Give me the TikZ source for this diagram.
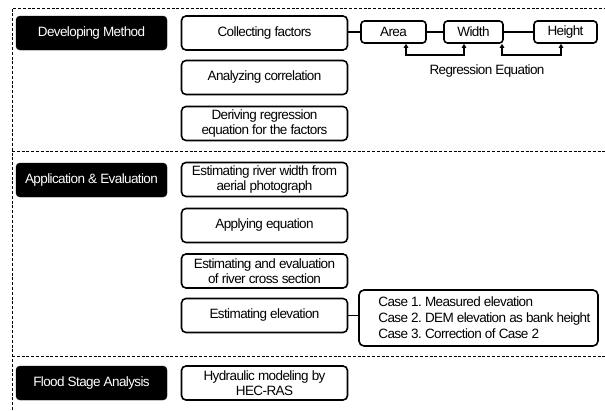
\documentclass[tikz,border=0pt]{standalone}
\usepackage{fontspec}
\setmainfont[LetterSpace=-4.5]{Liberation Sans}
\usetikzlibrary{arrows.meta,calc}
\frenchspacing
\begin{document}
\begin{tikzpicture}[x=1pt,y=-1pt,
  frame/.style={line width=0.9pt,dash pattern=on 3pt off 1.8pt},
  blackbox/.style={draw=black,fill=black,text=white,rounded corners=4pt,minimum width=151pt,minimum height=34pt,inner sep=0pt,font=\fontsize{13.5}{15}\selectfont},
  whitebox/.style={draw=black,line width=1.6pt,rounded corners=4.5pt,minimum width=166pt,minimum height=34pt,inner sep=0pt,align=center,font=\fontsize{13.5}{15}\selectfont},
  smallbox/.style={draw=black,line width=1.6pt,rounded corners=3.5pt,minimum height=22pt,inner sep=0pt,font=\fontsize{13.5}{15}\selectfont},
  casebox/.style={draw=black,line width=1.6pt,rounded corners=5pt,minimum width=239pt,minimum height=56pt,inner sep=0pt},
  casetext/.style={inner sep=0pt,align=left,font=\fontsize{13.5}{16}\selectfont},
  conn/.style={line width=1.6pt},
  arr/.style={line width=1.6pt,{Triangle[length=4pt,width=4.5pt]}-{Triangle[length=4pt,width=4.5pt]}}
]
\useasboundingbox (0,0) rectangle (605,410);
% frame
\draw[frame] (12,410) -- (12,8) -- (605,8);
\draw[frame] (12,151) -- (605,151);
\draw[frame] (12,356) -- (605,356);
% section headers
\node[blackbox] (dm) at (91.5,33) {Developing Method};
\node[blackbox] (ae) at (91.5,180) {Application \& Evaluation};
\node[blackbox] (fs) at (91.5,383) {Flood Stage Analysis};
% steps
\node[whitebox] (cf) at (264.5,33) {Collecting factors};
\node[whitebox] (ac) at (264.5,77.5) {Analyzing correlation};
\node[whitebox] (dr) at (264.5,123.5) {Deriving regression\\equation for the factors};
\node[whitebox] (ew) at (264.5,179.5) {Estimating river width from\\aerial photograph};
\node[whitebox] (ap) at (264.5,225.5) {Applying equation};
\node[whitebox] (ee) at (264.5,271) {Estimating and evaluation\\of river cross section};
\node[whitebox] (el) at (264.5,315.5) {Estimating elevation};
\node[whitebox] (hm) at (264.5,383) {Hydraulic modeling by\\HEC-RAS};
% factors
\node[smallbox,minimum width=65pt] (area) at (393.5,32) {Area};
\node[smallbox,minimum width=59pt] (width) at (473.5,32) {Width};
\node[smallbox,minimum width=63pt] (height) at (565.5,32) {Height};
\draw[conn] (cf.east |- area.west) -- (area.west);
\draw[conn] (area) -- (width);
\draw[conn] (width) -- (height);
\coordinate (a1) at (406,55);
\coordinate (a2) at (464,55);
\coordinate (b1) at (502,55);
\coordinate (b2) at (561,55);
\draw[arr] (area.south -| a1) -- (a1) -- (a2) -- (width.south -| a2);
\draw[arr] (width.south -| b1) -- (b1) -- (b2) -- (height.south -| b2);
\node[font=\fontsize{13.5}{15}\selectfont] (re) at (487,71) {Regression Equation};
% cases
\node[casebox] (cs) at (478.5,318) {};
\node[casetext,anchor=west] (cst) at ($(cs.west)+(20,0)$) {Case 1. Measured elevation\\Case 2. DEM elevation as bank height\\Case 3. Correction of Case 2};
\draw[conn] (el.east) -- (el.east -| cs.west);
\end{tikzpicture}
\end{document}
